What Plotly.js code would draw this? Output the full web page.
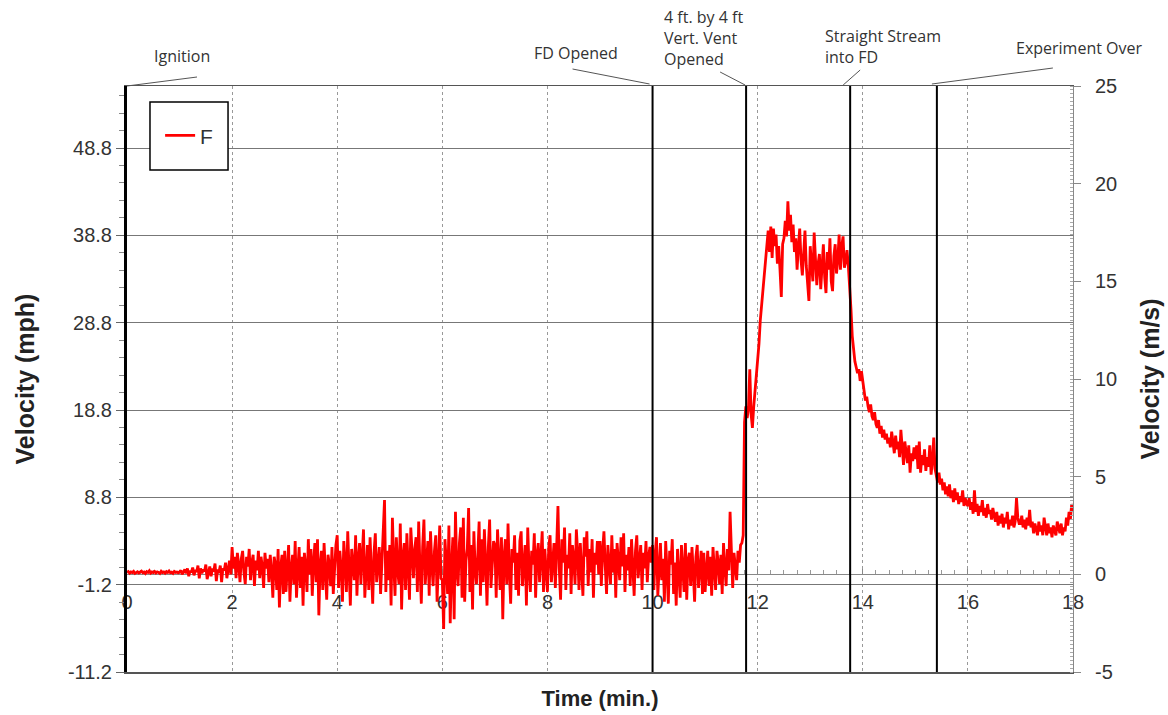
<!DOCTYPE html>
<html>
<head>
<meta charset="utf-8">
<script src="https://cdn.plot.ly/plotly-3.0.1.min.js"></script>
<style>html,body{margin:0;padding:0;background:#fff}#chart{width:1168px;height:715px}</style>
</head>
<body>
<div id="chart"></div>
<script>
// Sampling of the record (minutes)
var timeStart = 0;
var timeStep = 0.025;

// Velocity of probe F, m/s (one value per 0.025 min)
var velocityF = [
  // 0-1 min
  0.1,0.14,0.06,0.12,0.09,0.15,0.05,0.11,0.13,0.07,0.1,0.16,0.08,0.12,0.04,0.14,0.1,0.18,0.06,0.12,
  0.09,0.15,0.07,0.13,0.1,0.05,0.16,0.09,0.12,0.06,0.14,0.1,0.17,0.08,0.11,0.05,0.15,0.1,0.12,0.08,
  // 1-2 min
  0.12,0.2,0.0,0.15,0.25,0.05,0.3,-0.1,0.18,0.1,0.35,-0.05,0.22,0.12,0.45,-0.2,0.3,0.05,0.25,0.15,
  0.5,-0.25,0.2,0.4,-0.1,0.3,0.15,0.55,-0.35,0.25,0.1,0.45,-0.4,0.3,0.2,0.6,-0.2,0.35,0.7,0.0,
  // 2-3 min
  1.4,0.3,0.9,-0.2,1.1,0.5,-0.4,0.8,1.2,0.1,-0.5,0.9,0.4,1.3,-0.3,0.6,1.0,-0.6,0.7,0.2,
  1.2,-0.2,0.9,0.4,-0.7,1.1,0.3,0.8,-0.4,1.0,0.2,-1.2,0.9,0.5,-0.8,1.3,-1.7,0.4,1.0,-1.0,
  // 3-4 min
  1.2,-0.9,0.6,1.5,-1.4,0.3,1.0,-0.5,1.7,-1.2,0.2,1.4,-0.7,0.9,-1.6,1.1,0.4,-0.9,1.8,0.0,
  1.3,-1.1,0.6,1.6,-0.4,1.8,-2.1,0.5,1.2,-0.8,1.6,0.2,-1.3,1.0,0.5,-0.6,1.4,-1.0,0.7,1.5,
  // 4-5 min
  2.0,-0.7,1.2,0.3,-1.4,1.7,0.6,-0.9,2.2,0.1,-1.6,1.3,0.5,-0.3,2.0,-1.1,0.8,1.6,-0.5,1.0,
  2.3,-1.2,0.4,1.5,-0.8,1.9,0.2,-1.5,1.1,2.1,-0.4,0.7,1.4,-1.0,0.9,2.4,3.8,-0.9,1.2,-0.3,
  // 5-6 min
  1.5,-1.6,2.9,0.6,-1.1,1.9,0.2,-0.5,2.6,-1.8,0.9,1.6,-0.8,2.1,0.4,-1.3,2.4,0.7,-0.2,1.3,
  1.9,-0.9,2.7,0.3,-1.5,1.4,2.8,-0.5,0.8,1.7,-1.1,2.2,0.5,-0.6,1.2,2.0,-1.4,0.9,2.5,-0.2,
  // 6-7 min
  -0.3,-2.8,1.8,0.6,-1.0,2.5,-2.5,0.4,1.9,-2.3,3.2,0.2,-0.6,1.6,2.4,-1.2,2.9,-1.4,0.7,1.3,
  3.4,-0.9,1.5,-1.8,2.2,0.3,-0.5,1.0,2.7,-1.1,1.8,-0.4,2.3,0.6,-1.6,1.4,2.8,-0.7,0.9,1.7,
  // 7-8 min
  1.5,-1.2,2.3,0.4,-0.8,1.9,-2.3,0.9,1.8,-0.5,2.6,0.1,-1.5,1.3,0.6,2.0,-0.8,1.1,-1.1,1.7,
  2.2,-0.6,0.8,1.5,-1.6,2.4,0.3,-0.9,1.2,0.5,2.1,-1.2,1.0,1.6,-0.4,0.7,2.2,-0.9,1.3,0.2,
  // 8-9 min
  -0.9,1.4,2.0,-0.4,0.9,1.6,-0.7,1.2,3.5,0.3,-1.3,1.8,0.6,2.4,-0.8,1.0,0.3,2.1,-1.0,1.5,
  0.8,-0.5,2.3,1.1,-0.8,1.6,0.4,-1.1,1.9,0.9,2.2,-0.6,1.3,0.1,1.8,-1.2,1.1,0.5,1.7,0.0,
  // 9-10 min
  1.7,-0.6,1.2,2.2,0.4,-1.0,1.5,0.6,-0.5,2.0,0.1,1.3,-1.2,1.6,0.8,-0.3,1.9,0.4,2.1,-0.9,
  1.0,0.2,1.4,-0.6,1.8,0.5,-1.1,1.2,2.0,-0.2,0.7,1.5,-0.8,1.1,0.3,1.7,-0.4,0.9,1.4,0.6,
  // 10-11 min
  1.5,-0.8,1.0,1.9,-1.1,0.4,1.6,-0.3,0.8,-1.4,1.7,0.2,-1.5,1.2,0.5,1.8,-1.0,0.6,-1.6,1.3,
  0.2,-1.2,1.5,0.4,-0.9,1.6,-1.3,0.7,1.1,-0.6,1.4,0.1,-1.4,0.9,1.5,-0.7,0.4,1.2,-1.0,1.1,
  // 11-12 min
  -0.9,0.5,1.2,-0.6,0.9,-1.1,1.4,0.3,-0.8,1.2,0.6,-0.5,1.0,-1.0,1.6,0.4,-0.6,1.3,0.2,3.2,
  0.8,-0.7,1.1,0.4,-0.3,1.2,0.6,1.5,1.6,2.0,7.8,8.6,8.0,8.5,10.5,8.2,7.5,8.6,9.4,10.0,
  // 12-13 min
  10.8,11.8,13.0,13.8,14.6,15.4,16.2,17.1,17.6,16.5,17.8,16.2,17.7,16.8,17.4,15.9,16.8,15.6,14.2,16.9,
  17.2,18.1,17.3,19.1,17.6,18.4,17.0,17.9,16.5,17.2,15.6,16.8,17.7,16.1,15.3,16.4,17.6,15.8,14.6,14.0,
  // 13-14 min
  16.8,15.6,15.0,17.5,16.2,14.8,15.9,16.4,14.6,15.8,16.9,15.2,14.4,16.5,15.6,17.2,15.0,14.5,16.3,16.9,
  15.4,16.1,17.4,15.6,16.8,17.3,15.7,16.0,16.6,15.8,14.8,13.6,12.2,11.5,10.9,10.6,10.3,10.5,9.9,10.4,
  // 14-15 min
  10.0,9.4,8.9,9.1,8.6,8.3,8.7,8.1,7.9,8.3,7.7,7.5,7.9,7.2,7.6,7.0,7.4,6.9,7.2,6.7,
  7.0,6.5,7.3,6.6,6.2,7.1,6.4,6.8,6.0,7.4,6.3,5.6,6.8,6.1,5.7,6.6,5.2,6.2,5.8,6.5,
  // 15-16 min
  5.9,6.6,5.4,6.8,5.2,6.1,5.6,6.4,5.3,6.0,5.5,6.6,5.1,5.8,7.0,5.4,5.0,4.7,5.2,4.6,
  4.9,4.3,4.7,4.1,4.5,4.0,4.6,3.9,4.3,3.7,4.4,3.8,4.2,3.6,4.0,3.7,4.3,3.5,3.9,3.6,
  // 16-17 min
  3.5,3.9,3.3,3.7,3.1,4.3,3.2,3.6,3.0,3.5,3.2,3.8,3.0,3.4,2.9,3.6,3.1,3.3,2.8,3.4,
  3.0,2.7,3.2,2.5,3.0,2.6,3.1,2.4,2.9,2.6,3.2,2.3,2.8,2.5,3.0,2.4,2.7,3.9,2.9,2.6,
  // 17-18 min
  2.6,3.0,2.4,2.8,2.3,2.9,2.5,3.3,2.4,2.7,2.1,2.6,2.3,2.0,2.7,2.2,2.5,2.0,2.9,2.3,
  2.0,2.6,2.1,2.4,1.9,2.5,2.2,2.0,2.7,2.3,2.1,2.6,2.0,2.4,2.2,2.9,2.5,3.2,2.8,3.6,
  3.2
];

// Event markers (minutes) and their labels
var eventTimes  = [0, 10, 11.78, 13.76, 15.41];
var eventLabels = ["Ignition", "FD Opened", "4 ft. by 4 ft<br>Vert. Vent<br>Opened", "Straight Stream<br>into FD", "Experiment Over"];

// Axis ticks
var xTicks   = [0, 2, 4, 6, 8, 10, 12, 14, 16, 18];
var mphTicks = [-11.2, -1.2, 8.8, 18.8, 28.8, 38.8, 48.8];
var mphLabels = ["-11.2", "-1.2", "8.8", "18.8", "28.8", "38.8", "48.8"];
var msTicks  = [-5, 0, 5, 10, 15, 20, 25];
var msLabels = ["-5", "0", "5", "10", "15", "20", "25"];
var msRange  = [-5, 25];
var mphRange = [-11.2, 55.9];

var times = velocityF.map(function (v, i) { return +(timeStart + i * timeStep).toFixed(3); });

var FONT = "Liberation Sans, Arial, sans-serif";
var NOTE_FONT = "Open Sans, Lato, sans-serif";

// Leader geometry (pixel offsets from the top of each event line) and label offsets
var leaderStart = [[0, 0], [-3, 2], [-1, 1], [-7, 1], [-5, 2]];
var leaderEnd   = [[70, 9], [-80, 17], [-26, 14], [10, 16], [116, 18]];
var labelShift  = [[55, 30], [-77, 33], [-84, 48], [-27, 40], [143, 38]];
var labelAnchor = ["center", "center", "left", "left", "center"];

var shapes = [];
var annotations = [];
for (var k = 0; k < eventTimes.length; k++) {
  if (k > 0) {
    shapes.push({
      type: "line", xref: "x", yref: "paper",
      x0: eventTimes[k], x1: eventTimes[k], y0: 0, y1: 1,
      line: { color: "#000", width: 2 }, layer: "above"
    });
  }
  shapes.push({
    type: "line", xref: "x", yref: "paper",
    xsizemode: "pixel", ysizemode: "pixel",
    xanchor: eventTimes[k], yanchor: 1,
    x0: leaderStart[k][0], y0: leaderStart[k][1],
    x1: leaderEnd[k][0], y1: leaderEnd[k][1],
    line: { color: "#555", width: 1 }, layer: "above"
  });
  annotations.push({
    xref: "x", yref: "paper", x: eventTimes[k], y: 1,
    xshift: labelShift[k][0], yshift: labelShift[k][1],
    xanchor: labelAnchor[k], yanchor: "middle", align: "left",
    showarrow: false, text: eventLabels[k],
    font: { family: NOTE_FONT, size: 16, color: "#333" }
  });
}

// legend frame
shapes.push({
  type: "rect", xref: "paper", yref: "paper",
  x0: 0.0243, x1: 0.1068, y0: 0.8567, y1: 0.9727,
  line: { color: "#000", width: 1.5 }, fillcolor: "#fff", layer: "above"
});

var trace = {
  type: "scatter", mode: "lines", name: "F",
  x: times, y: velocityF, xaxis: "x", yaxis: "y",
  line: { color: "#ff0000", width: 2.8 },
  hoverinfo: "x+y"
};

var layout = {
  width: 1168, height: 715,
  margin: { l: 127, r: 95, t: 86, b: 43 },
  paper_bgcolor: "#fff", plot_bgcolor: "#fff",
  showlegend: true,
  legend: {
    x: 0.035, y: 0.915, xanchor: "left", yanchor: "middle",
    bgcolor: "rgba(0,0,0,0)", borderwidth: 0,
    font: { family: FONT, size: 21, color: "#333" }
  },
  xaxis: {
    range: [0, 18], tickvals: xTicks, ticktext: xTicks.map(String),
    anchor: "free", position: (0 - msRange[0]) / (msRange[1] - msRange[0]),
    showline: true, linecolor: "#888", linewidth: 1, layer: "below traces",
    ticks: "inside", ticklen: 5, tickcolor: "#888",
    minor: { dtick: 0.25, ticks: "inside", ticklen: 4, tickcolor: "#999", showgrid: false },
    ticklabelstandoff: 10,
    showgrid: true, gridcolor: "#999", griddash: "dot", gridwidth: 1,
    zeroline: false,
    tickfont: { family: FONT, size: 20, color: "#333" }
  },
  xaxis2: {
    range: [0, 18], overlaying: "x", anchor: "y", side: "bottom",
    showline: true, linecolor: "#555", linewidth: 1.5, mirror: true,
    showticklabels: false, ticks: "", showgrid: false, zeroline: false,
    title: { text: "<b>Time (min.)</b>", font: { family: FONT, size: 22, color: "#222" }, standoff: 18 }
  },
  yaxis: {
    range: msRange, tickvals: msTicks, ticktext: msLabels, side: "right",
    showline: true, linecolor: "#888", linewidth: 1,
    ticks: "outside", ticklen: 7, tickcolor: "#888",
    ticklabelstandoff: 10,
    minor: { dtick: 0.2, ticks: "inside", ticklen: 3, tickcolor: "#aaa", showgrid: false },
    showgrid: false, zeroline: false,
    tickfont: { family: FONT, size: 20, color: "#333" },
    title: { text: "<b>Velocity (m/s)</b>", font: { family: FONT, size: 25, color: "#222" }, standoff: 25 }
  },
  yaxis2: {
    range: mphRange, tickvals: mphTicks, ticktext: mphLabels, overlaying: "y", side: "left", anchor: "x",
    showline: true, linecolor: "#000", linewidth: 3,
    ticks: "outside", ticklen: 8, tickcolor: "#666",
    minor: { dtick: 2, tick0: -11.2, ticks: "outside", ticklen: 5, tickcolor: "#888", showgrid: false },
    showgrid: true, gridcolor: "#777", gridwidth: 1,
    zeroline: false,
    tickfont: { family: FONT, size: 20, color: "#333" },
    title: { text: "<b>Velocity (mph)</b>", font: { family: FONT, size: 25, color: "#222" }, standoff: 27 }
  },
  shapes: shapes,
  annotations: annotations
};

// empty traces so the overlay axes are drawn
var mphAxisTrace = { type: "scatter", mode: "lines", x: [], y: [], xaxis: "x", yaxis: "y2", showlegend: false, hoverinfo: "skip" };
var bottomAxisTrace = { type: "scatter", mode: "lines", x: [], y: [], xaxis: "x2", yaxis: "y", showlegend: false, hoverinfo: "skip" };

Plotly.newPlot("chart", [mphAxisTrace, bottomAxisTrace, trace], layout, { staticPlot: true, displayModeBar: false });
</script>
</body>
</html>
